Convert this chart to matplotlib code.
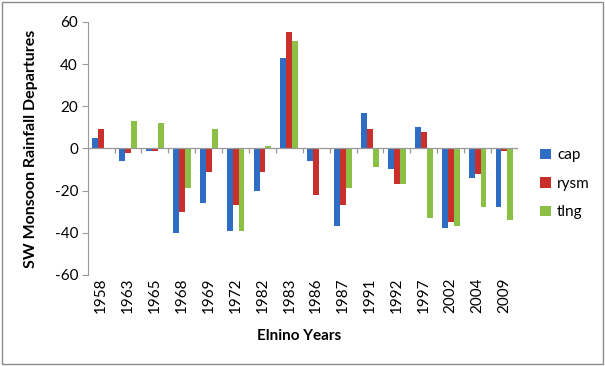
import numpy as np
import matplotlib.pyplot as plt
from matplotlib.patches import Rectangle

years = ['1958', '1963', '1965', '1968', '1969', '1972', '1982', '1983',
         '1986', '1987', '1991', '1992', '1997', '2002', '2004', '2009']
cap = [5, -6, -1, -40, -26, -39, -20, 43, -6, -37, 17, -10, 10, -38, -14, -28]
rysm = [9, -2, -1, -30, -11, -27, -11, 55, -22, -27, 9, -17, 8, -35, -12, -1]
tlng = [0, 13, 12, -19, 9, -39, 1, 51, -0.5, -19, -9, -17, -33, -37, -28, -34]

series = [('cap', cap, '#2f6cc4'), ('rysm', rysm, '#c9302c'), ('tlng', tlng, '#8cbf45')]

plt.rcParams['font.family'] = ['Lato', 'DejaVu Sans']
plt.rcParams['axes.unicode_minus'] = False

fig = plt.figure(figsize=(6.05, 3.66), dpi=100)
ax = fig.add_axes([0.145, 0.249, 0.711, 0.691])

x = np.arange(len(years))
w = 0.22
for i, (name, vals, col) in enumerate(series):
    ax.bar(x + (i - 1) * w, vals, w, color=col, label=name)

ax.set_xlim(-0.5, len(years) - 0.5)
ax.set_ylim(-60, 60)
ax.set_yticks(range(-60, 61, 20))
ax.tick_params(axis='y', direction='out', length=4, color='#999999', labelsize=11, pad=3)

# zero line with category separator ticks
ax.axhline(0, color='#999999', lw=0.9)
ax.vlines(np.arange(-0.5, len(years)), -2, 0, color='#999999', lw=0.9)

ax.set_xticks(x)
ax.set_xticklabels(years, rotation=90, fontsize=11)
ax.tick_params(axis='x', length=0, pad=2)

for s in ['top', 'right', 'bottom']:
    ax.spines[s].set_visible(False)
ax.spines['left'].set_color('#999999')

ax.set_ylabel('SW Monsoon Rainfall Departures', fontsize=11.5, fontweight='bold')
ax.yaxis.set_label_coords(-0.115, 0.5)
fig.text(0.495, 0.072, 'Elnino Years', fontsize=11, fontweight='bold', ha='center')

ax.legend(loc='center left', bbox_to_anchor=(1.02, 0.36), frameon=False,
          fontsize=11, handlelength=0.7, handleheight=0.7, labelspacing=0.95,
          handletextpad=0.4)

fig.patches.append(Rectangle((0.003, 0.005), 0.994, 0.99, transform=fig.transFigure,
                             fill=False, edgecolor='#8c8c8c', lw=1))

fig.savefig('out.png', dpi=100)
